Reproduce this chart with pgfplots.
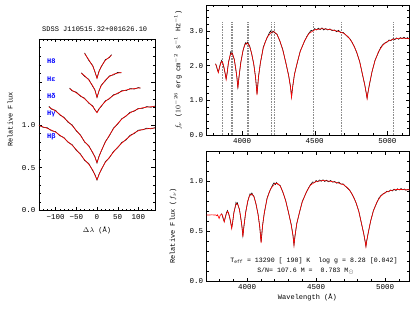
\documentclass[border=0pt]{standalone}
\usepackage{fontspec}
\setmainfont{Liberation Mono}
\usepackage{pgfplots}
\pgfplotsset{compat=1.18}
\usepackage{pgfplotstable}

% ---- left panel: line profiles (x = delta lambda, m = model, d = data)
\pgfplotstableread{
x m d
-140 0.990 0.995
-130 0.975 0.970
-120 0.958 0.965
-110 0.937 0.930
-100 0.914 0.920
-90 0.880 0.872
-80 0.845 0.852
-70 0.802 0.795
-60 0.760 0.768
-50 0.710 0.702
-40 0.652 0.660
-30 0.592 0.585
-20 0.540 0.548
-10 0.470 0.462
-5 0.412 0.420
0 0.360 0.355
5 0.418 0.425
10 0.478 0.470
20 0.560 0.568
30 0.622 0.615
40 0.682 0.690
50 0.740 0.732
60 0.785 0.795
70 0.830 0.822
80 0.868 0.878
90 0.905 0.898
100 0.930 0.938
110 0.945 0.940
120 0.952 0.960
130 0.958 0.952
140 0.962 0.966
}\hbeta
\pgfplotstableread{
x m d
-116 1.205 1.215
-110 1.190 1.182
-100 1.160 1.168
-90 1.122 1.115
-80 1.080 1.088
-70 1.038 1.030
-60 0.990 0.998
-50 0.935 0.928
-40 0.875 0.882
-30 0.805 0.798
-20 0.750 0.758
-10 0.676 0.668
-5 0.620 0.628
0 0.560 0.555
5 0.628 0.635
10 0.695 0.688
20 0.795 0.802
30 0.880 0.872
40 0.955 0.962
50 1.015 1.008
60 1.065 1.072
70 1.105 1.098
80 1.138 1.146
90 1.165 1.158
100 1.185 1.192
110 1.198 1.190
120 1.205 1.212
130 1.210 1.204
140 1.212 1.218
}\hgamma
\pgfplotstableread{
x m d
-66 1.420 1.428
-60 1.402 1.395
-50 1.372 1.380
-40 1.340 1.332
-30 1.302 1.310
-20 1.260 1.252
-10 1.210 1.218
-5 1.178 1.172
0 1.140 1.145
5 1.180 1.188
10 1.220 1.212
20 1.270 1.278
30 1.310 1.302
40 1.342 1.350
50 1.370 1.362
60 1.390 1.398
70 1.405 1.398
80 1.415 1.422
90 1.422 1.416
100 1.428 1.434
105 1.430 1.426
}\hdelta
\pgfplotstableread{
x m d
-38 1.600 1.606
-30 1.572 1.565
-20 1.522 1.530
-10 1.452 1.445
-5 1.400 1.408
0 1.320 1.318
5 1.400 1.395
10 1.452 1.460
20 1.520 1.512
30 1.562 1.570
40 1.590 1.582
50 1.602 1.610
59 1.610 1.604
}\hepsilon
\pgfplotstableread{
x m d
-30 1.830 1.838
-20 1.760 1.752
-10 1.680 1.688
-5 1.622 1.615
0 1.540 1.545
5 1.620 1.628
10 1.680 1.672
20 1.750 1.758
30 1.790 1.784
35 1.810 1.818
}\height

% ---- model spectrum: lam, normalised flux n, f_nu f (1e-26)
\pgfplotstableread{
lam n f
3701 0.660 2.013
3730 0.660 2.013
3745 0.662 2.019
3760 0.660 2.013
3775 0.660 2.013
3782 0.652 1.989
3787 0.662 2.019
3792 0.645 1.967
3798 0.625 1.906
3805 0.655 1.998
3815 0.670 2.044
3822 0.658 2.007
3828 0.625 1.906
3835 0.590 1.800
3842 0.628 1.915
3850 0.670 2.044
3858 0.695 2.120
3866 0.684 2.086
3875 0.635 1.937
3882 0.588 1.793
3889 0.525 1.601
3896 0.592 1.806
3905 0.680 2.074
3915 0.748 2.281
3925 0.775 2.364
3935 0.762 2.324
3945 0.712 2.172
3955 0.632 1.928
3963 0.545 1.662
3970 0.442 1.348
3977 0.545 1.662
3990 0.680 2.074
4005 0.800 2.440
4020 0.858 2.617
4035 0.870 2.654
4050 0.842 2.568
4065 0.772 2.355
4080 0.662 2.019
4092 0.545 1.662
4102 0.378 1.153
4112 0.545 1.662
4125 0.682 2.080
4145 0.822 2.507
4170 0.920 2.806
4200 0.972 2.965
4220 0.977 2.980
4240 0.950 2.898
4260 0.890 2.715
4280 0.800 2.440
4300 0.690 2.105
4320 0.560 1.708
4333 0.450 1.373
4340 0.355 1.083
4347 0.450 1.373
4360 0.570 1.739
4380 0.690 2.105
4400 0.790 2.410
4430 0.892 2.721
4460 0.960 2.928
4500 0.995 3.035
4550 1.005 3.065
4600 0.998 3.044
4650 0.985 3.004
4700 0.962 2.934
4730 0.930 2.837
4760 0.872 2.660
4790 0.782 2.385
4810 0.690 2.105
4830 0.570 1.739
4845 0.470 1.434
4855 0.400 1.220
4861 0.342 1.043
4867 0.400 1.220
4877 0.480 1.464
4895 0.600 1.830
4915 0.700 2.135
4940 0.790 2.410
4970 0.850 2.593
5000 0.885 2.699
5040 0.905 2.760
5080 0.915 2.791
5120 0.915 2.791
5150 0.912 2.782
5170 0.913 2.785
5200 0.912 2.782
}\model

% ---- observed spectrum
\pgfplotstableread{
lam n f
3816 0.675 2.06
3822 0.648 1.98
3828 0.620 1.89
3835 0.595 1.81
3842 0.635 1.94
3850 0.678 2.07
3858 0.705 2.15
3866 0.676 2.06
3875 0.630 1.92
3882 0.580 1.77
3889 0.532 1.62
3896 0.585 1.78
3905 0.688 2.10
3915 0.742 2.26
3920 0.785 2.39
3925 0.768 2.34
3930 0.782 2.38
3935 0.755 2.30
3945 0.718 2.19
3955 0.625 1.91
3963 0.550 1.68
3970 0.450 1.37
3977 0.538 1.64
3990 0.688 2.10
4005 0.792 2.42
4015 0.845 2.58
4022 0.872 2.66
4028 0.858 2.62
4035 0.880 2.68
4042 0.860 2.62
4050 0.848 2.59
4065 0.768 2.34
4080 0.668 2.04
4092 0.540 1.65
4102 0.390 1.19
4112 0.550 1.68
4125 0.678 2.07
4145 0.828 2.53
4160 0.885 2.70
4170 0.915 2.79
4185 0.960 2.93
4195 0.982 3.00
4205 0.965 2.94
4212 0.985 3.00
4220 0.970 2.96
4230 0.962 2.93
4240 0.955 2.91
4260 0.885 2.70
4280 0.805 2.46
4300 0.685 2.09
4320 0.565 1.72
4333 0.455 1.39
4340 0.360 1.10
4347 0.445 1.36
4360 0.575 1.75
4380 0.685 2.09
4400 0.795 2.42
4430 0.888 2.71
4445 0.930 2.84
4460 0.965 2.94
4475 0.990 3.02
4490 0.985 3.00
4500 1.005 3.07
4512 0.992 3.03
4525 1.010 3.08
4537 0.998 3.04
4550 1.012 3.09
4562 0.995 3.03
4575 1.008 3.07
4590 0.992 3.03
4605 1.005 3.06
4620 0.988 3.01
4635 0.995 3.03
4650 0.978 2.98
4665 0.990 3.02
4680 0.968 2.95
4695 0.972 2.96
4710 0.950 2.90
4730 0.925 2.82
4745 0.905 2.76
4760 0.868 2.65
4775 0.830 2.53
4790 0.778 2.37
4810 0.695 2.12
4830 0.565 1.72
4845 0.475 1.45
4855 0.395 1.20
4861 0.347 1.06
4867 0.405 1.23
4877 0.475 1.45
4895 0.598 1.82
4915 0.705 2.15
4940 0.782 2.39
4955 0.830 2.53
4970 0.855 2.61
4985 0.872 2.66
5000 0.880 2.68
5012 0.898 2.74
5025 0.892 2.72
5040 0.910 2.78
5052 0.900 2.75
5065 0.918 2.80
5078 0.905 2.76
5090 0.922 2.81
5102 0.910 2.78
5115 0.925 2.82
5128 0.912 2.78
5140 0.920 2.81
5150 0.908 2.77
5165 0.915 2.79
5180 0.908 2.77
5196 0.918 2.80
}\obs

% ---- marked wavelengths (dotted lines)
\pgfplotstableread{
lam top
3865 3.27
3927 3.27
3934 3.27
4035 3.27
4042 3.27
4203 3.27
4219 3.27
4490 3.27
4681 3.27
5042 3.27
}\marks

\begin{document}
\begin{tikzpicture}
\path[use as bounding box] (0pt,0pt) rectangle (415pt,308pt);
\pgfplotsset{
  base/.style={
    scale only axis, anchor=south west,
    tick align=inside, major tick length=3.5pt, minor tick length=2pt,
    every tick/.style={black, line width=0.4pt},
    axis line style={line width=0.6pt},
    font=\fontsize{7}{8}\selectfont,
    tick label style={font=\fontsize{7.5}{8}\selectfont},
    label style={font=\fontsize{7}{8}\selectfont},
    /pgf/number format/assume math mode=true,
    yticklabel style={/pgf/number format/.cd, fixed, fixed zerofill, precision=1},
    xticklabel style={/pgf/number format/.cd, 1000 sep={}},
    every axis title shift=0pt,
  },
  dat/.style={black, line width=0.55pt},
  mod/.style={red, line width=0.6pt},
}

% ================= left panel
\begin{axis}[base,
  at={(39pt,97.5pt)}, width=116pt, height=171.5pt,
  xmin=-140, xmax=140, ymin=0, ymax=2,
  xtick={-100,-50,0,50,100}, xticklabels={−100,−50,0,50,100},
  minor xtick={-140,-130,...,140},
  ytick={0,0.5,1,1.5,2}, yticklabels={0.0,0.5,1.0,,},
  minor ytick={0,0.1,...,2},
  xlabel={$\Delta\lambda$ (Å)},
  xlabel style={at={(axis description cs:0.5,-0.114)}, anchor=center},
  ylabel={Relative Flux},
  ylabel style={at={(axis description cs:-0.25,0.53)}, anchor=center},
  title={SDSS J110515.32+001626.10},
  title style={at={(axis description cs:0.48,1.058)}, anchor=center, font=\fontsize{7}{8}\selectfont},
]
\addplot[dat] table[x=x,y=d] {\hbeta};
\addplot[mod] table[x=x,y=m] {\hbeta};
\addplot[dat] table[x=x,y=d] {\hgamma};
\addplot[mod] table[x=x,y=m] {\hgamma};
\addplot[dat] table[x=x,y=d] {\hdelta};
\addplot[mod] table[x=x,y=m] {\hdelta};
\addplot[dat] table[x=x,y=d] {\hepsilon};
\addplot[mod] table[x=x,y=m] {\hepsilon};
\addplot[dat] table[x=x,y=d] {\height};
\addplot[mod] table[x=x,y=m] {\height};
\begin{scope}[every node/.style={blue, anchor=west, inner sep=0pt, font=\fontsize{7}{8}\selectfont\bfseries}]
\node at (axis cs:-121,1.74) {H8};
\node at (axis cs:-121,1.53) {Hε};
\node at (axis cs:-121,1.33) {Hδ};
\node at (axis cs:-121,1.125) {Hγ};
\node at (axis cs:-121,0.866) {Hβ};
\end{scope}
\end{axis}

% ================= top right panel
\begin{axis}[base,
  at={(206.7pt,173pt)}, width=202.6pt, height=130pt,
  xmin=3755, xmax=5152, ymin=0, ymax=3.75,
  xtick={4000,4500,5000}, minor xtick={3800,3900,...,5100},
  ytick={0,1,2,3}, minor ytick={0,0.2,...,3.6},
  ylabel={$f_\nu$ ($10^{-26}$ erg cm$^{-2}$ s$^{-1}$ Hz$^{-1}$)},
  ylabel style={at={(axis description cs:-0.142,0.5)}, anchor=center},
]
\addplot[ycomb, gray!90, line width=0.35pt, dash pattern=on 0.5pt off 1.1pt] table[x=lam,y=top] {\marks};
\addplot[dat] table[x=lam,y=f] {\obs};
\addplot[mod, restrict x to domain=3814:5300] table[x=lam,y=f] {\model};
\end{axis}

% ================= bottom right panel
\begin{axis}[base,
  at={(206.7pt,27pt)}, width=202.6pt, height=129.3pt,
  xmin=3708, xmax=5175, ymin=0, ymax=1.293,
  xtick={4000,4500,5000}, minor xtick={3800,3900,...,5100},
  ytick={0,0.5,1}, minor ytick={0,0.1,...,1.2},
  xlabel={Wavelength (Å)},
  xlabel style={at={(axis description cs:0.497,-0.124)}, anchor=center},
  ylabel={Relative Flux ($f_\nu$)},
  ylabel style={at={(axis description cs:-0.166,0.425)}, anchor=center},
]
\addplot[dat] table[x=lam,y=n] {\obs};
\addplot[mod] table[x=lam,y=n] {\model};
\node[anchor=east, inner sep=0pt, font=\fontsize{6.6}{7.5}\selectfont] at (axis description cs:0.943,0.155)
  {T\textsubscript{eff} = 13290 [ 190] K\ \ log g = 8.28 [0.042]};
\node[anchor=center, inner sep=0pt, font=\fontsize{6.6}{7.5}\selectfont] at (axis description cs:0.489,0.077)
  {S/N= 107.6 M =\ \ 0.783 M\textsubscript{$\odot$}};
\end{axis}
\end{tikzpicture}
\end{document}
